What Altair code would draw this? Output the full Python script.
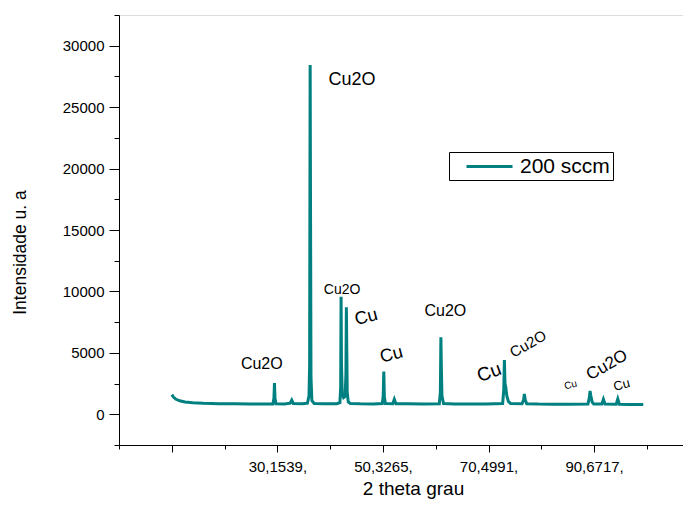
import altair as alt
import pandas as pd

# ---- data ----
two_theta = [10.0, 10.3, 10.8, 11.5, 12.5, 14.0, 16.0, 19.0, 22.0, 25.0, 28.0, 29.3,
             29.5, 29.6, 29.7, 29.9, 31.5, 32.6, 32.9, 33.2, 35.0, 35.9, 36.2, 36.32,
             36.42, 36.5, 36.58, 36.75, 37.2, 39.0, 41.5, 42.1, 42.25, 42.33, 42.4,
             42.55, 42.8, 43.1, 43.25, 43.34, 43.42, 43.5, 43.7, 44.1, 46.0, 48.5,
             50.2, 50.38, 50.49, 50.6, 50.8, 52.2, 52.5, 52.8, 55.0, 58.0, 61.1, 61.3,
             61.4, 61.5, 61.6, 61.9, 64.0, 67.0, 70.0, 73.2, 73.42, 73.53, 73.65,
             73.8, 74.0, 74.3, 74.7, 76.9, 77.22, 77.35, 77.5, 77.8, 80.0, 83.0,
             86.0, 89.5, 89.78, 89.9, 90.05, 90.3, 90.6, 92.15, 92.45, 92.75, 94.9,
             95.2, 95.5, 97.5, 100.07]
intensity = [1600, 1400, 1220, 1100, 1000, 930, 890, 860, 850, 845, 835, 840,
             1300, 2550, 1300, 850, 840, 900, 1150, 880, 850, 900, 1500, 4000,
             28430, 15400, 3000, 1100, 880, 850, 860, 950, 2200, 9570, 4200,
             1600, 1350, 1450, 3200, 8710, 5370, 1800, 1000, 880, 850, 840,
             870, 1500, 3470, 1400, 870, 860, 1220, 860, 850, 840, 860, 1800,
             6270, 3600, 1500, 880, 845, 840, 835, 880, 2000, 4420, 2500,
             2200, 1500, 1050, 880, 860, 1200, 1650, 1200, 860, 830, 825,
             820, 840, 1400, 1900, 1500, 1000, 830, 830, 1220, 830, 820,
             1245, 820, 800, 800]
series_name = "200 sccm"

# annotations (label, 2theta, intensity, angle, font size)
ann_text = ["Cu2O", "Cu2O", "Cu2O", "Cu", "Cu", "Cu2O", "Cu", "Cu2O", "Cu", "Cu2O", "Cu"]
ann_x = [44.43, 27.18, 42.52, 47.16, 51.98, 62.26, 70.61, 78.06, 86.18, 93.15, 95.96]
ann_y = [27210, 4094, 10141, 7879, 4826, 8408, 3402, 5722, 2385, 4000, 2385]
ann_angle = [0, 0, 0, 345, 345, 0, 340, 330, 345, 330, 345]
ann_size = [18, 16, 14, 18, 18, 16, 19, 15, 10, 17, 13]

# axis ticks
x_domain = [-0.105, 107.66]
x_major_values = [9.9813, 30.1539, 50.3265, 70.4991, 90.6717]
x_minor_values = [-0.105, 20.0676, 40.2402, 60.4128, 80.5854, 100.758]
x_label_values = [30.1539, 50.3265, 70.4991, 90.6717]
x_label_texts = ["30,1539,", "50,3265,", "70,4991,", "90,6717,"]
y_domain = [-2500, 32500]
y_major_values = [0, 5000, 10000, 15000, 20000, 25000, 30000]
y_minor_values = [-2500, 2500, 7500, 12500, 17500, 22500, 27500, 32500]

FONT = "Liberation Sans"
TEAL = "#008080"

df = pd.DataFrame({"x": two_theta, "y": intensity, "s": series_name})
ann = pd.DataFrame({"t": ann_text, "x": ann_x, "y": ann_y, "a": ann_angle, "fs": ann_size})

x_label_expr = " : ".join(
    f"abs(datum.value - {v}) < 0.001 ? '{t}'" for v, t in zip(x_label_values, x_label_texts)
) + " : ''"

x_scale = alt.Scale(domain=x_domain, nice=False, zero=False)
y_scale = alt.Scale(domain=y_domain, nice=False, zero=False)

x_axis = alt.Axis(
    orient="bottom", title="2 theta grau", values=x_major_values, labelExpr=x_label_expr,
    tickSize=7, grid=False, domainColor="black", tickColor="black", labelColor="black",
    labelFont=FONT, labelFontSize=15, labelPadding=7, labelFlush=False, labelOverlap=False,
    titleFont=FONT, titleFontSize=19, titleFontWeight="normal", titleColor="black",
    titleX=294, titleY=49, titleBaseline="alphabetic", titleAlign="center",
)
y_axis = alt.Axis(
    orient="left", title="Intensidade u. a", values=y_major_values, format="d",
    tickSize=10, grid=False, domainColor="black", tickColor="black", labelColor="black",
    labelFont=FONT, labelFontSize=15, labelPadding=5, labelFlush=False, labelOverlap=False,
    titleFont=FONT, titleFontSize=17.5, titleFontWeight="normal", titleColor="black",
    titleAngle=270, titleX=-94, titleY=237, titleBaseline="alphabetic", titleAlign="center",
)
x_minor_axis = alt.Axis(orient="bottom", title=None, values=x_minor_values, tickSize=4,
                        labels=False, domain=False, grid=False, tickColor="black")
y_minor_axis = alt.Axis(orient="left", title=None, values=y_minor_values, tickSize=5,
                        labels=False, domain=False, grid=False, tickColor="black")

line = alt.Chart(df).mark_line(strokeWidth=3, clip=True).encode(
    x=alt.X("x:Q", scale=x_scale, axis=x_axis),
    y=alt.Y("y:Q", scale=y_scale, axis=y_axis),
    color=alt.Color("s:N", scale=alt.Scale(range=[TEAL]), legend=alt.Legend(
        title=None, orient="none", legendX=330, legendY=137,
        strokeColor="black", padding=3, symbolType="M-2.3,0H2.3", symbolSize=400,
        symbolStrokeWidth=3, symbolOffset=26, labelOffset=19,
        labelFont=FONT, labelFontSize=21, labelColor="black",
    )),
)

minor = alt.Chart(df).mark_line(strokeOpacity=0).encode(
    x=alt.X("x:Q", scale=x_scale, axis=x_minor_axis),
    y=alt.Y("y:Q", scale=y_scale, axis=y_minor_axis),
)

texts = alt.Chart(ann).mark_text(font=FONT, color="black", align="center", baseline="middle").encode(
    x=alt.X("x:Q", scale=x_scale, axis=None),
    y=alt.Y("y:Q", scale=y_scale, axis=None),
    text="t:N",
    angle=alt.Angle("a:Q", scale=None),
    size=alt.Size("fs:Q", scale=None, legend=None),
)

chart = alt.layer(line, minor, texts).resolve_axis(x="independent", y="independent").properties(
    width=564, height=430,
    padding={"left": 111, "top": 7, "right": 0, "bottom": 54},
    autosize=alt.AutoSizeParams(type="none"),
).configure_view(stroke=None).configure(background="white")

chart.save("out.html", embed_options={"renderer": "svg", "actions": False})
